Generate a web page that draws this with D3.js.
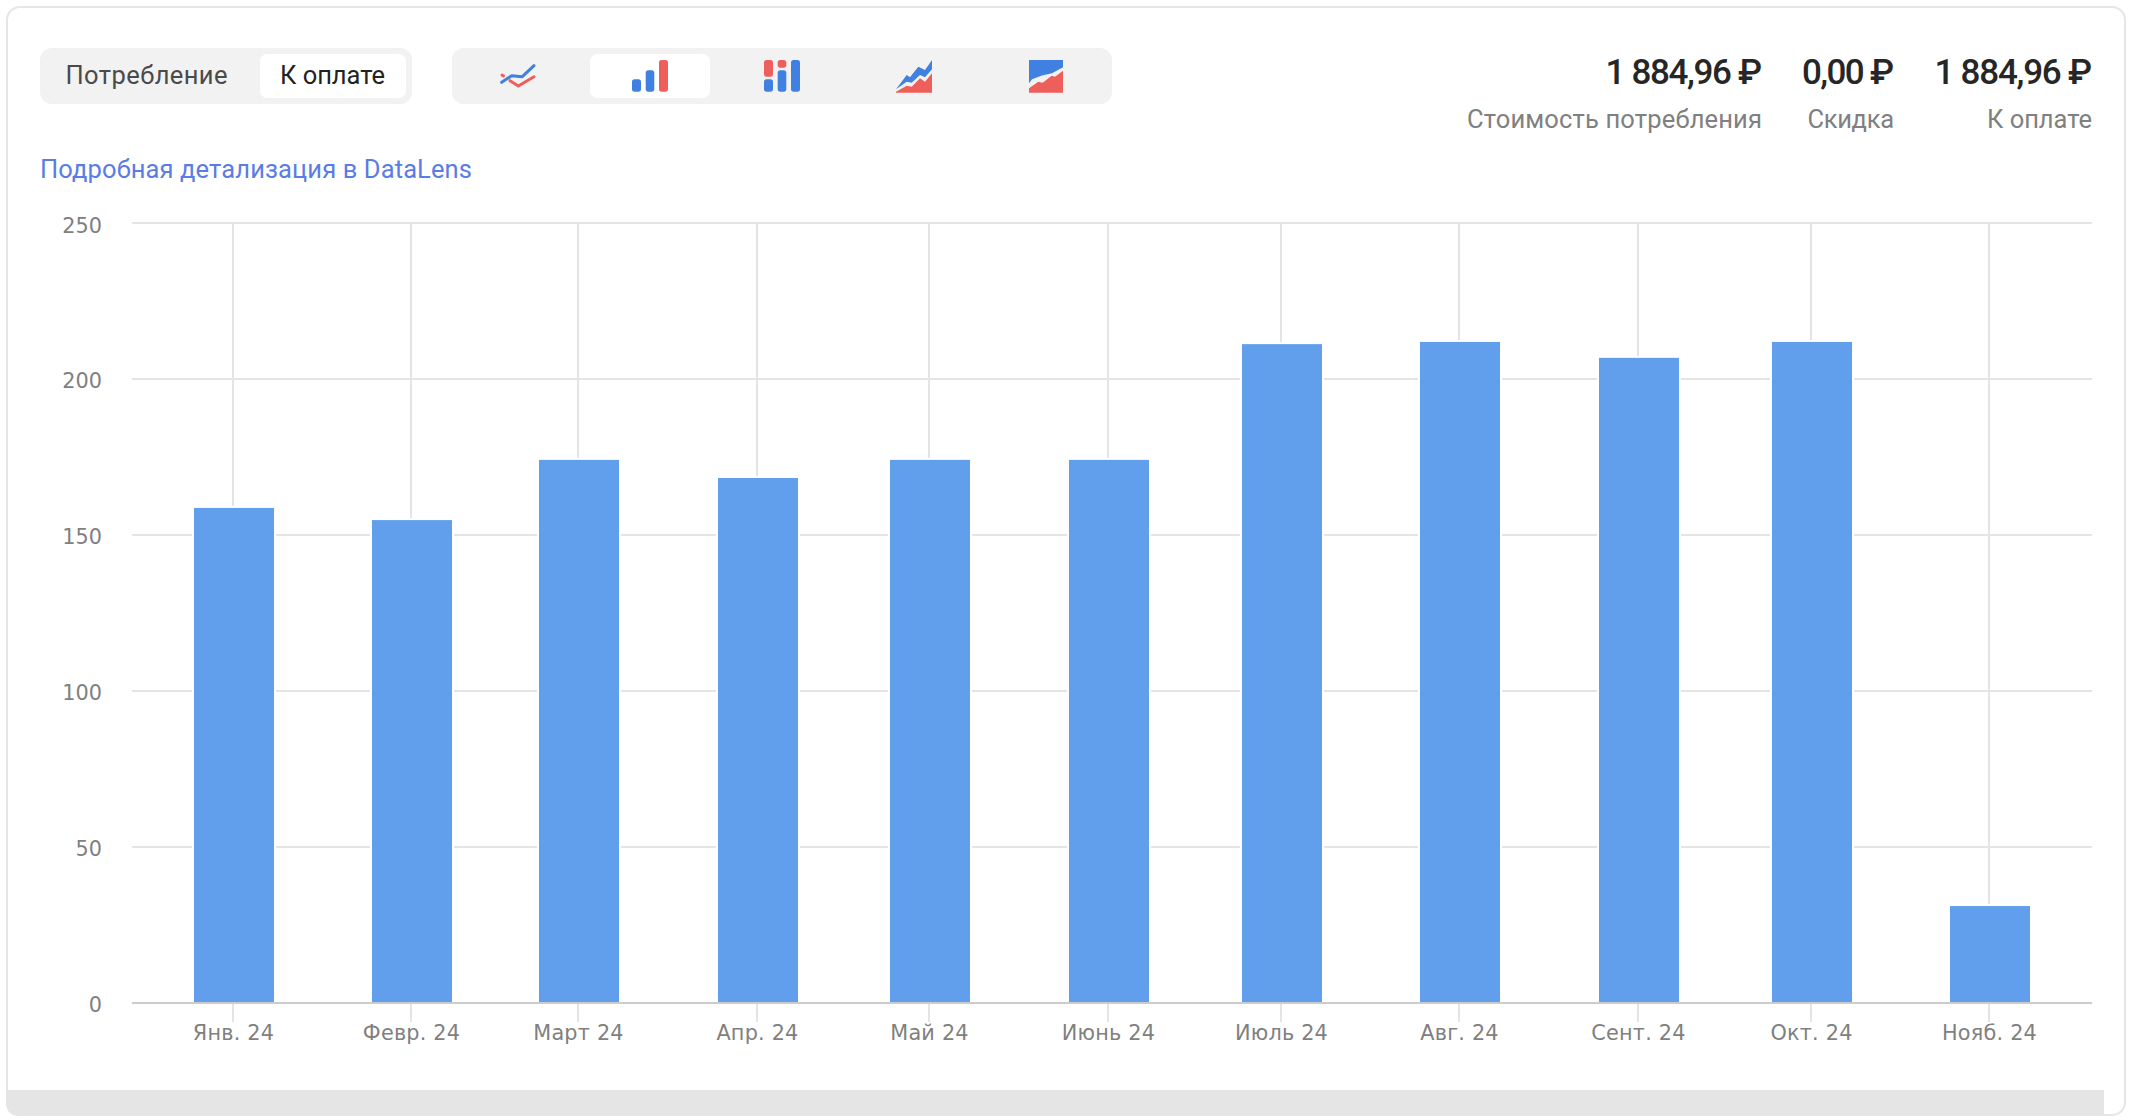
<!DOCTYPE html>
<html lang="ru">
<head>
<meta charset="utf-8">
<title>Детализация</title>
<script src="https://cdn.jsdelivr.net/npm/d3@7/dist/d3.min.js"></script>
<style>
html,body{margin:0;padding:0;background:#fff;}
svg{display:block;}
text{font-family:Roboto,"Noto Sans",sans-serif;}
.axis text{font-family:"DejaVu Sans",sans-serif;font-size:20.8px;fill:#808080;}
</style>
</head>
<body>
<svg id="chart" width="2136" height="1120"></svg>
<script>
const months = ["2024-01-01","2024-02-01","2024-03-01","2024-04-01","2024-05-01","2024-06-01","2024-07-01","2024-08-01","2024-09-01","2024-10-01","2024-11-01"];
const monthLabels = ["Янв. 24","Февр. 24","Март 24","Апр. 24","Май 24","Июнь 24","Июль 24","Авг. 24","Сент. 24","Окт. 24","Нояб. 24"];
const paidValues = [159.0,155.1,174.4,168.6,174.4,174.4,211.5,212.2,207.1,212.2,31.4];
const yTicks = [0,50,100,150,200,250];
const segmentLabels = ["Потребление","К оплате"];
const linkLabel = "Подробная детализация в DataLens";
const statValues = ["1 884,96 ₽","0,00 ₽","1 884,96 ₽"];
const statLabels = ["Стоимость потребления","Скидка","К оплате"];

const svg = d3.select("#chart");
const plotLeft = 132, plotRight = 2092, plotTop = 223, plotBottom = 1003;
const dates = months.map(d => new Date(d + "T00:00:00Z"));
const x = d3.scaleUtc()
  .domain([new Date(Date.UTC(2023,11,14,11)), new Date(Date.UTC(2024,10,18,19))])
  .range([plotLeft, plotRight]);
const px = d => Math.floor(x(d));
const y = d3.scaleLinear().domain([0,250]).range([plotBottom, plotTop]);

/* card */
svg.append("rect").attr("x",7).attr("y",7).attr("width",2118).attr("height",1108).attr("rx",13)
  .attr("fill","#fff").attr("stroke","#e6e6e6").attr("stroke-width",2);
svg.append("path").attr("fill","#e5e5e5")
  .attr("d","M6 1090H2104V1116H20Q6 1116 6 1102Z");

/* segmented controls */
const segBg = "#f2f2f2";
function box(x0,y0,w,h,r,fill){svg.append("rect").attr("x",x0).attr("y",y0).attr("width",w).attr("height",h).attr("rx",r).attr("fill",fill);}
box(40,48,372,56,12,segBg);
box(260,54,146,44,7,"#fff");
box(452,48,660,56,12,segBg);
box(590,54,120,44,7,"#fff");
function label(t,x0,yb,size,fill,weight,len,anchor){
  const n = svg.append("text").attr("x",x0).attr("y",yb).attr("font-size",size).attr("fill",fill)
    .attr("font-weight",weight||400).attr("text-anchor",anchor||"start").text(t);
  if(len) n.attr("textLength",len).attr("lengthAdjust","spacing");
  return n;
}
label(segmentLabels[0],65.5,84,25.5,"#4a4a4a",400,162);
label(segmentLabels[1],280,84,25.5,"#222",400,105);
label(linkLabel,40,177.5,25.5,"#5a7ce6",400,432);

/* chart-type icons */
const blue="#4080e0", red="#ee5f5b";
function poly(pts,stroke){svg.append("polyline").attr("points",pts).attr("fill","none").attr("stroke",stroke)
  .attr("stroke-width",3).attr("stroke-linecap","round").attr("stroke-linejoin","round");}
poly("502,75 503.5,76",red);
poly("510,80.7 518.3,86 534,76.7",red);
poly("501.7,82.3 511.7,75.7 522.3,76.7 534,65.7",blue);
function pill(x0,y0,x1,y1,fill){svg.append("rect").attr("x",x0).attr("y",y0).attr("width",x1-x0).attr("height",y1-y0).attr("rx",2.6).attr("fill",fill);}
pill(632,79.3,641,91.7,blue);pill(645.7,70.3,654.3,91.7,blue);pill(659,60,668,91.7,red);
pill(764,60,773,76.7,red);pill(764,79.3,773,91.7,blue);
pill(777.7,60,786.3,67.7,red);pill(777.7,70.3,786.3,91.7,blue);
pill(791,60,800,91.7,blue);
function area(pts,fill){svg.append("polygon").attr("points",pts).attr("fill",fill);}
area("896,92.7 896,91.7 906.7,85.7 911.7,86.7 920,78.3 925,81.7 932,73.3 932,92.7",red);
area("896,89.3 906.7,75 910,77.3 918.3,66.7 925,70 932,60 932,69.3 925,77.3 920,75 911.7,82.7 906.7,81.7 896,89.3",blue);
area("1029,60 1063,60 1063,67.3 1052,73.3 1042,75.5 1032,79.3 1029,83.3",blue);
area("1029,88.3 1038.3,81.7 1042.7,82.7 1051.7,75.7 1055,76.7 1063,70.7 1063,92.7 1029,92.7",red);

/* totals */
const statRight=[1762,1894,2092], statValueLen=[156.5,92,157.5], statLabelLen=[295,86.5,105];
statValues.forEach((t,i)=>{
  label(t,statRight[i],84.3,35,"#262626",500,statValueLen[i],"end");
  label(statLabels[i],statRight[i],127.7,25.5,"#808080",400,statLabelLen[i],"end");
});

/* grid */
const gridColor="#e4e4e4";
svg.append("g").selectAll("line").data(yTicks.filter(d=>d>0)).join("line")
  .attr("x1",plotLeft).attr("x2",plotRight).attr("y1",d=>y(d)).attr("y2",d=>y(d))
  .attr("stroke",gridColor).attr("stroke-width",2);
svg.append("g").selectAll("line").data(dates).join("line")
  .attr("x1",px).attr("x2",px).attr("y1",plotTop).attr("y2",plotBottom)
  .attr("stroke",gridColor).attr("stroke-width",2);

/* bars */
const barOuter=82, barShift=1;
svg.append("g").selectAll("rect").data(paidValues).join("rect")
  .attr("x",(d,i)=>px(dates[i])+barShift-barOuter/2)
  .attr("width",barOuter)
  .attr("y",d=>y(d))
  .attr("height",d=>plotBottom-y(d))
  .attr("fill","#619fec").attr("stroke","#fff").attr("stroke-width",2);

/* axes */
const xAxis = d3.axisBottom(x).tickValues(dates).tickSizeOuter(0).tickSize(19).tickPadding(0)
  .tickFormat((d,i)=>monthLabels[i]).offset(0);
const gx = svg.append("g").attr("class","axis").attr("transform",`translate(0,${plotBottom})`).call(xAxis);
gx.select(".domain").remove();
gx.selectAll(".tick").attr("transform",d=>`translate(${px(d)},0)`);
gx.selectAll(".tick line").attr("stroke",gridColor).attr("stroke-width",2);
gx.selectAll(".tick text").attr("x",0.5).attr("y",37).attr("dy",0).attr("letter-spacing",0.2);
svg.append("line").attr("x1",plotLeft).attr("x2",plotRight).attr("y1",plotBottom).attr("y2",plotBottom)
  .attr("stroke","#cccccc").attr("stroke-width",2);

const yAxis = d3.axisLeft(y).tickValues(yTicks).tickSize(0).tickPadding(30).offset(0);
const gy = svg.append("g").attr("class","axis").attr("transform",`translate(${plotLeft},0)`).call(yAxis);
gy.select(".domain").remove();
gy.selectAll(".tick text").attr("dy",0).attr("y",d=>d===250?10:8.5);
</script>
</body>
</html>
